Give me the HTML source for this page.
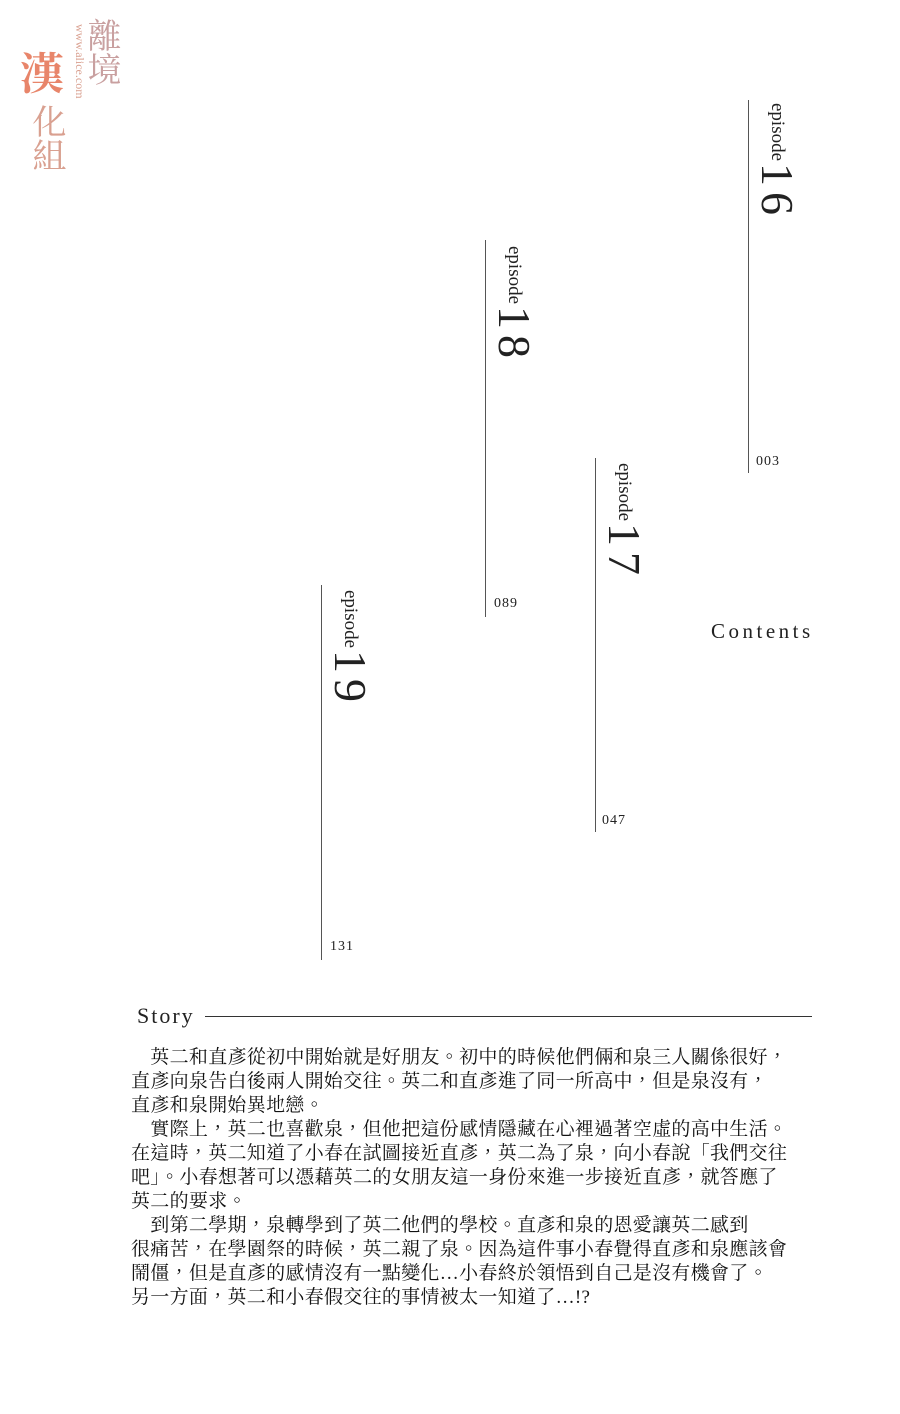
<!DOCTYPE html>
<html><head><meta charset="utf-8"><style>
body{margin:0;width:900px;height:1414px;background:#fff;position:relative;overflow:hidden;font-family:"Liberation Serif","Noto Serif CJK SC",serif;color:#222}
.ln{position:absolute;width:1px;background:#555}
.ep{position:absolute;writing-mode:vertical-rl;white-space:nowrap;line-height:1}
.ep .a{font-size:19px}
.ep .b{font-size:46px;letter-spacing:6px;margin-top:2px}
.pg{position:absolute;font-size:14px;letter-spacing:1px}
.txt{position:absolute;left:131px;top:1046px;width:720px;font-family:"Liberation Serif","Noto Serif CJK TC",serif;font-size:19px;letter-spacing:0.3px;line-height:24px;color:#111}
.logo{position:absolute;color:#e8856a;font-family:"Noto Serif CJK SC",serif}
</style></head><body>
<div class="logo" style="left:20px;top:48px;font-size:44px;font-weight:bold;line-height:1">漢</div>
<div class="logo" style="left:30px;top:104px;font-size:34px;line-height:38px;writing-mode:vertical-rl;color:#d9a090">化組</div>
<div class="logo" style="left:85px;top:18px;font-size:34px;line-height:38px;writing-mode:vertical-rl;color:#c9a0a0">離境</div>
<div class="logo" style="left:72px;top:24px;font-size:12px;writing-mode:vertical-rl;font-family:'Liberation Serif',serif;color:#d9a090">www.alice.com</div>

<div class="ln" style="left:748px;top:100px;height:373px"></div>
<div class="ep" style="left:754px;top:103px"><span class="a">episode</span><span class="b">16</span></div>
<div class="pg" style="left:756px;top:454px">003</div>

<div class="ln" style="left:485px;top:240px;height:377px"></div>
<div class="ep" style="left:491px;top:246px"><span class="a">episode</span><span class="b">18</span></div>
<div class="pg" style="left:494px;top:596px">089</div>

<div class="ln" style="left:595px;top:458px;height:374px"></div>
<div class="ep" style="left:601px;top:463px"><span class="a">episode</span><span class="b">17</span></div>
<div class="pg" style="left:602px;top:813px">047</div>

<div class="ln" style="left:321px;top:585px;height:375px"></div>
<div class="ep" style="left:327px;top:590px"><span class="a">episode</span><span class="b">19</span></div>
<div class="pg" style="left:330px;top:939px">131</div>

<div style="position:absolute;left:711px;top:619px;font-size:21px;letter-spacing:3.5px">Contents</div>
<div style="position:absolute;left:137px;top:1003px;font-size:22px;letter-spacing:2px">Story</div>
<div style="position:absolute;left:205px;top:1016px;width:607px;height:1px;background:#333"></div>

<div class="txt">
　英二和直彥從初中開始就是好朋友。初中的時候他們倆和泉三人關係很好，<br>
直彥向泉告白後兩人開始交往。英二和直彥進了同一所高中，但是泉沒有，<br>
直彥和泉開始異地戀。<br>
　實際上，英二也喜歡泉，但他把這份感情隱藏在心裡過著空虛的高中生活。<br>
在這時，英二知道了小春在試圖接近直彥，英二為了泉，向小春說「我們交往<br>
吧」。小春想著可以憑藉英二的女朋友這一身份來進一步接近直彥，就答應了<br>
英二的要求。<br>
　到第二學期，泉轉學到了英二他們的學校。直彥和泉的恩愛讓英二感到<br>
很痛苦，在學園祭的時候，英二親了泉。因為這件事小春覺得直彥和泉應該會<br>
鬧僵，但是直彥的感情沒有一點變化…小春終於領悟到自己是沒有機會了。<br>
另一方面，英二和小春假交往的事情被太一知道了…!?
</div>
</body></html>
